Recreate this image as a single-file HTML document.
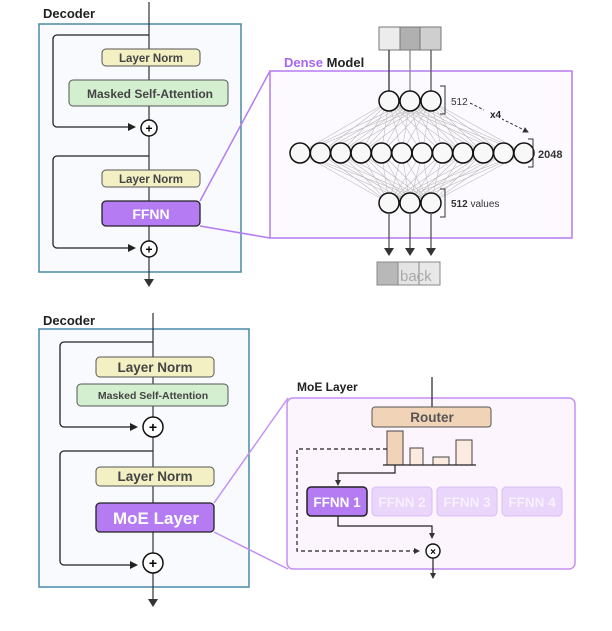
<!DOCTYPE html>
<html><head><style>body{margin:0;background:#fff}svg{display:block;font-family:"Liberation Sans",sans-serif;font-weight:bold}</style></head><body>
<svg width="612" height="631" viewBox="0 0 612 631">
<defs>
<marker id="a" markerWidth="8" markerHeight="8" refX="6" refY="4" orient="auto" markerUnits="userSpaceOnUse"><path d="M0,0 L8,4 L0,8 z" fill="#222"/></marker>
<marker id="s" markerWidth="6" markerHeight="6" refX="5" refY="3" orient="auto" markerUnits="userSpaceOnUse"><path d="M0,0 L6,3 L0,6 z" fill="#333"/></marker>
</defs>
<text x="43" y="18" font-size="13" fill="#222">Decoder</text>
<rect x="39" y="24" width="202" height="248" fill="#f8fafd" stroke="#4a8aa8" stroke-width="1.5"/>
<line x1="149" y1="2" x2="149" y2="282" stroke="#333" stroke-width="1.2"/>
<path d="M149,287 l-5,-8 h10z" fill="#333"/>
<path d="M149,35 H57 a4,4 0 0 0 -4,4 V123 a4,4 0 0 0 4,4 H134" fill="none" stroke="#222" stroke-width="1.3" marker-end="url(#a)"/>
<path d="M149,156 H57 a4,4 0 0 0 -4,4 V244 a4,4 0 0 0 4,4 H134" fill="none" stroke="#222" stroke-width="1.3" marker-end="url(#a)"/>
<rect x="102" y="49" width="98" height="17" rx="4" fill="#f3f0c4" stroke="#555"/>
<text x="151" y="62" font-size="11.5" fill="#444" text-anchor="middle">Layer Norm</text>
<rect x="69" y="80" width="159" height="26" rx="4" fill="#d4efcf" stroke="#555"/>
<text x="150" y="98" font-size="12" fill="#444" text-anchor="middle">Masked Self-Attention</text>
<circle cx="149" cy="128" r="8" fill="#fff" stroke="#111" stroke-width="1.5"/><text x="149" y="132.5" font-size="12" text-anchor="middle">+</text>
<rect x="102" y="170" width="98" height="17" rx="4" fill="#f3f0c4" stroke="#555"/>
<text x="151" y="183" font-size="11.5" fill="#444" text-anchor="middle">Layer Norm</text>
<rect x="102" y="201" width="98" height="25" rx="4" fill="#b57bf2" stroke="#222" stroke-width="1.3"/>
<text x="151" y="219" font-size="14" fill="#fff" text-anchor="middle">FFNN</text>
<circle cx="149" cy="249" r="8" fill="#fff" stroke="#111" stroke-width="1.5"/><text x="149" y="253.5" font-size="12" text-anchor="middle">+</text>
<line x1="200" y1="201" x2="270" y2="71" stroke="#b57bf2" stroke-width="1.5"/>
<line x1="200" y1="226" x2="270" y2="238" stroke="#b57bf2" stroke-width="1.5"/>
<rect x="379" y="27" width="21" height="23" fill="#ececec" stroke="#777"/>
<rect x="400" y="27" width="20" height="23" fill="#b0b0b0" stroke="#777"/>
<rect x="420" y="27" width="21" height="23" fill="#cfcfcf" stroke="#777"/>
<text x="284" y="67" font-size="13"><tspan fill="#a866ee">Dense</tspan><tspan fill="#222"> Model</tspan></text>
<rect x="270" y="71" width="302" height="167" fill="#fdfaff" stroke="#b57bf2" stroke-width="1.5"/>
<g stroke="#333" stroke-width="1.3"><line x1="389" y1="50" x2="389" y2="91"/><line x1="410" y1="50" x2="410" y2="91" stroke="#888"/><line x1="431" y1="50" x2="431" y2="91" stroke="#555"/></g>
<g stroke="#bbb" stroke-width="0.6" id="lines"></g>
<g id="nodes" fill="#f8f8f8" stroke="#111" stroke-width="1.5"></g>
<g stroke="#333" stroke-width="1" fill="none"><path d="M440,86 h5 v28 h-5"/><path d="M528,139 h5 v28 h-5"/><path d="M440,189 h5 v28 h-5"/></g>
<text x="451" y="105" font-size="10" fill="#333" font-weight="normal">512</text>
<line x1="470" y1="103" x2="528" y2="132" stroke="#333" stroke-dasharray="3,2" marker-end="url(#s)"/>
<rect x="484" y="108" width="18" height="12" fill="#fdfaff"/>
<text x="490" y="118" font-size="10" fill="#222">x4</text>
<text x="538" y="158" font-size="11" fill="#333">2048</text>
<text x="451" y="207" font-size="10" fill="#333">512 <tspan font-weight="normal">values</tspan></text>
<g stroke="#555" stroke-width="1.3"><line x1="389" y1="213" x2="389" y2="250"/><line x1="410" y1="213" x2="410" y2="250"/><line x1="431" y1="213" x2="431" y2="250"/></g>
<g fill="#333"><path d="M389,256 l-5,-8 h10z"/><path d="M410,256 l-5,-8 h10z"/><path d="M431,256 l-5,-8 h10z"/></g>
<rect x="377" y="262" width="21" height="23" fill="#b8b8b8" stroke="#888"/>
<rect x="398" y="262" width="21" height="23" fill="#e4e4e4" stroke="#888"/>
<rect x="419" y="262" width="21" height="23" fill="#e8e8e8" stroke="#888"/>
<text x="400" y="281" font-size="15" fill="#aaa" font-weight="normal">back</text>
<text x="43" y="325" font-size="13" fill="#222">Decoder</text>
<rect x="39" y="329" width="210" height="258" fill="#f8fafd" stroke="#4a8aa8" stroke-width="1.5"/>
<line x1="153" y1="313" x2="153" y2="600" stroke="#333" stroke-width="1.2"/>
<path d="M153,607 l-5,-8 h10z" fill="#333"/>
<path d="M153,342 H64 a4,4 0 0 0 -4,4 V423 a4,4 0 0 0 4,4 H136" fill="none" stroke="#222" stroke-width="1.3" marker-end="url(#a)"/>
<path d="M153,451 H64 a4,4 0 0 0 -4,4 V561 a4,4 0 0 0 4,4 H136" fill="none" stroke="#222" stroke-width="1.3" marker-end="url(#a)"/>
<rect x="96" y="357" width="118" height="20" rx="4" fill="#f3f0c4" stroke="#555"/>
<text x="155" y="372" font-size="13.5" fill="#444" text-anchor="middle">Layer Norm</text>
<rect x="77" y="384" width="151" height="22" rx="4" fill="#d4efcf" stroke="#555"/>
<text x="153" y="399" font-size="10.5" fill="#444" text-anchor="middle">Masked Self-Attention</text>
<circle cx="153" cy="427" r="10" fill="#fff" stroke="#111" stroke-width="1.5"/><text x="153" y="432" font-size="14" text-anchor="middle">+</text>
<rect x="96" y="467" width="118" height="19" rx="4" fill="#f3f0c4" stroke="#555"/>
<text x="155" y="481" font-size="13.5" fill="#444" text-anchor="middle">Layer Norm</text>
<rect x="96" y="503" width="118" height="29" rx="4" fill="#b57bf2" stroke="#222" stroke-width="1.3"/>
<text x="156" y="524" font-size="17" fill="#fff" text-anchor="middle">MoE Layer</text>
<circle cx="153" cy="563" r="10" fill="#fff" stroke="#111" stroke-width="1.5"/><text x="153" y="568" font-size="14" text-anchor="middle">+</text>
<line x1="214" y1="503" x2="288" y2="398" stroke="#c490f5" stroke-width="1.5"/>
<line x1="214" y1="532" x2="288" y2="569" stroke="#c490f5" stroke-width="1.5"/>
<text x="297" y="391" font-size="12" fill="#222">MoE Layer</text>
<rect x="287" y="398" width="288" height="171" rx="6" fill="#fcf5fe" stroke="#c490f5" stroke-width="1.5"/>
<line x1="432" y1="377" x2="432" y2="407" stroke="#222" stroke-width="1.2"/>
<rect x="372" y="407" width="119" height="20" rx="3" fill="#f1d4b8" stroke="#555"/>
<text x="432" y="422" font-size="13.5" fill="#555" text-anchor="middle">Router</text>
<rect x="387" y="431" width="16" height="34" fill="#f1d4b8" stroke="#444"/>
<rect x="410" y="448" width="13" height="17" fill="#fbeae0" stroke="#444"/>
<rect x="433" y="457" width="16" height="8" fill="#fbeae0" stroke="#444"/>
<rect x="456" y="440" width="16" height="25" fill="#fbeae0" stroke="#444"/>
<line x1="383" y1="465" x2="476" y2="465" stroke="#222" stroke-width="1.3"/>
<path d="M387,449 H297 V551 H419" fill="none" stroke="#222" stroke-width="1.2" stroke-dasharray="4,3" marker-end="url(#s)"/>
<path d="M395,465 V473 H338 V485" fill="none" stroke="#222" stroke-width="1.2" marker-end="url(#s)"/>
<rect x="307" y="487" width="60" height="29" rx="4" fill="#b57bf2" stroke="#222" stroke-width="1.5"/>
<text x="337" y="507" font-size="13.5" fill="#fff" text-anchor="middle">FFNN 1</text>
<g fill="#ead5fb" stroke="#d9bdf5"><rect x="372" y="487" width="60" height="29" rx="4"/><rect x="437" y="487" width="60" height="29" rx="4"/><rect x="502" y="487" width="60" height="29" rx="4"/></g>
<g fill="#f8f0fe" font-size="13.5" text-anchor="middle"><text x="402" y="507">FFNN 2</text><text x="467" y="507">FFNN 3</text><text x="532" y="507">FFNN 4</text></g>
<path d="M338,516 V526 H432 V538" fill="none" stroke="#222" stroke-width="1.2" marker-end="url(#s)"/>
<circle cx="433" cy="551" r="7" fill="#fff" stroke="#111" stroke-width="1.4"/><text x="433" y="555" font-size="10" text-anchor="middle">×</text>
<line x1="433" y1="558" x2="433" y2="578" stroke="#222" stroke-width="1.2" marker-end="url(#s)"/>
</svg>
<script>
(function(){
var ns="http://www.w3.org/2000/svg",L=document.getElementById("lines"),N=document.getElementById("nodes");
var tp=[389,410,431],md=[];for(var i=0;i<12;i++)md.push(300+i*20.36);
function ln2(a,b,c,d){var l=document.createElementNS(ns,"line");l.setAttribute("x1",a);l.setAttribute("y1",b);l.setAttribute("x2",c);l.setAttribute("y2",d);L.appendChild(l);}
function ci(x,y){var c=document.createElementNS(ns,"circle");c.setAttribute("cx",x);c.setAttribute("cy",y);c.setAttribute("r",10);N.appendChild(c);}
tp.forEach(function(t){md.forEach(function(m){ln2(t,101,m,153);ln2(m,153,t,203);});});
tp.forEach(function(t){ci(t,101);ci(t,203);});md.forEach(function(m){ci(m,153);});
})();
</script>
</body></html>
